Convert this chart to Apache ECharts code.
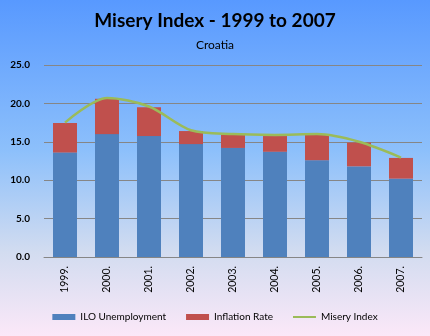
<!DOCTYPE html>
<html><head><meta charset="utf-8">
<script src="https://cdn.jsdelivr.net/npm/echarts@6/dist/echarts.min.js"></script>
<style>html,body{margin:0;padding:0;}#c{width:430px;height:336px;}</style>
</head><body><div id="c"></div>
<script>
const years = ['1999.','2000.','2001.','2002.','2003.','2004.','2005.','2006.','2007.'];
const unemployment = [13.6, 16.0, 15.75, 14.7, 14.2, 13.7, 12.6, 11.8, 10.2];
const inflation = [3.85, 4.6, 3.75, 1.7, 1.7, 2.05, 3.4, 3.1, 2.7];
const misery = [17.5, 20.7, 19.6, 16.5, 16.0, 15.9, 16.0, 15.0, 12.95];
const yTicks = {min: 0, max: 25, interval: 5};

const font = 'Lato, "Open Sans", sans-serif';
const chart = echarts.init(document.getElementById('c'));
chart.setOption({
  animation: false,
  backgroundColor: {type:'linear', x:0, y:0, x2:0, y2:1, colorStops:[
    {offset:0, color:'#5899ff'},{offset:0.45, color:'#8dc0fb'},{offset:0.75, color:'#d2dcf0'},{offset:1, color:'#fbe8f8'}]},
  title: [
    {text:'Misery Index - 1999 to 2007', left:'center', top:6, textStyle:{fontFamily:font, fontSize:19, fontWeight:'bold', color:'#000'}},
    {text:'Croatia', left:'center', top:34, textStyle:{fontFamily:font, fontSize:12, fontWeight:'normal', color:'#000'}}
  ],
  grid: {left:44, right:8, top:65, bottom:79},
  legend: {
    bottom: 9, left: 'center', itemWidth: 23, itemHeight: 6, itemGap: 20,
    textStyle:{fontFamily:font, fontSize:10, color:'#000'},
    data:[{name:'ILO Unemployment', icon:'rect'},{name:'Inflation Rate', icon:'rect'},
          {name:'Misery Index', icon:'path://M0,0 L46,0 L46,4 L0,4 Z'}]
  },
  xAxis: {
    type:'category', data: years,
    axisLine:{lineStyle:{color:'#868686'}}, axisTick:{show:false},
    axisLabel:{rotate:90, margin:9, fontFamily:font, fontSize:10.5, color:'#000'}
  },
  yAxis: {
    type:'value', min:yTicks.min, max:yTicks.max, interval:yTicks.interval,
    axisLine:{show:false}, axisTick:{show:false},
    splitLine:{lineStyle:{color:'#868686', width:1}},
    axisLabel:{formatter:v=>v.toFixed(1), margin:14, fontFamily:font, fontSize:10, fontWeight:'bold', color:'#000'}
  },
  series: [
    {name:'ILO Unemployment', type:'bar', stack:'a', data:unemployment, barWidth:24, itemStyle:{color:'#4f81bd'}},
    {name:'Inflation Rate', type:'bar', stack:'a', data:inflation, barWidth:24, itemStyle:{color:'#c0504d'}},
    {name:'Misery Index', type:'line', data:misery, smooth:0.3, symbol:'none', lineStyle:{color:'#9bbb59', width:2.5}, itemStyle:{color:'#9bbb59'}, z:5}
  ]
});
</script></body></html>
